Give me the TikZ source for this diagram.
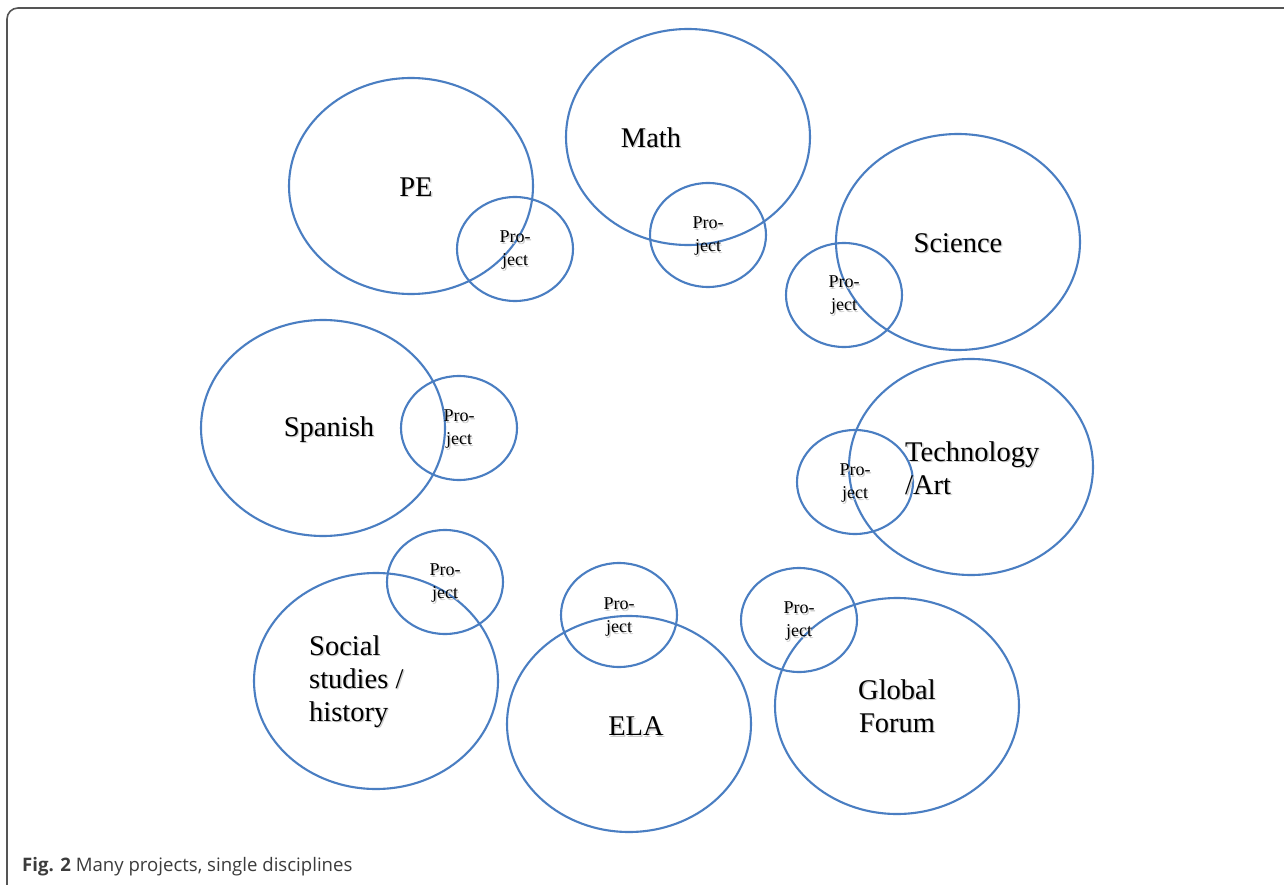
\documentclass[tikz,border=0pt]{standalone}
\usepackage{fontspec}
\setmainfont{Liberation Serif}
\newfontfamily\capfont{Open Sans}
\usetikzlibrary{shapes.geometric}
\definecolor{ellblue}{RGB}{74,126,194}
\definecolor{framegray}{RGB}{85,85,85}
\definecolor{capgray}{RGB}{60,60,60}
\newcommand\shd[1]{\makebox[0pt][l]{\kern1.3pt\raisebox{-1.3pt}{\textcolor{black!20}{#1}}}#1}
\tikzset{
  bigell/.style={ellipse, draw=ellblue, line width=2.1pt, minimum width=244pt, minimum height=216pt, inner sep=0pt, outer sep=0pt},
  projell/.style={ellipse, draw=ellblue, line width=2.1pt, minimum width=116pt, minimum height=104pt, inner sep=0pt, outer sep=0pt},
  biglabel/.style={inner sep=0pt, font=\fontsize{28.5}{33}\selectfont},
  projlabel/.style={inner sep=0pt, align=center, font=\fontsize{18}{23}\selectfont},
}
\begin{document}
\begin{tikzpicture}[x=1pt,y=-1pt]
\useasboundingbox (0,0) rectangle (1284,885);
\fill[white] (0,0) rectangle (1284,885);
% frame
\draw[framegray, line width=1.6pt, rounded corners=11pt] (7,890) -- (7,8) -- (1290,8);
% big ellipses
\node[bigell] (pe) at (411,186) {};
\node[bigell] (math) at (688,137) {};
\node[bigell] (sci) at (958,242) {};
\node[bigell] (spa) at (323,428) {};
\node[bigell] (tech) at (971,467) {};
\node[bigell] (soc) at (376,681) {};
\node[bigell] (ela) at (629,724) {};
\node[bigell] (glob) at (897,706) {};
% project ellipses
\node[projell] (pep) at (515,249) {};
\node[projell] (mathp) at (708,235) {};
\node[projell] (scip) at (844,295) {};
\node[projell] (spap) at (459,428) {};
\node[projell] (techp) at (855,482) {};
\node[projell] (socp) at (445,582) {};
\node[projell] (elap) at (619,615) {};
\node[projell] (globp) at (799,620) {};
% big labels
\node[biglabel] (pel) at (416,188) {\shd{PE}};
\node[biglabel] (mathl) at (651,138) {\shd{Math}};
\node[biglabel] (scil) at (958,244) {\shd{Science}};
\node[biglabel] (spal) at (329,430) {\shd{Spanish}};
\node[biglabel, align=left, anchor=west] (techl) at (905,469) {\shd{Technology}\\\shd{/Art}};
\node[biglabel, align=left, anchor=west] (socl) at (309,682) {\shd{Social}\\\shd{studies /}\\\shd{history}};
\node[biglabel] (elal) at (636,727) {\shd{ELA}};
\node[biglabel, align=center] (globl) at (897,707) {\shd{Global}\\\shd{Forum}};
% project labels
\node[projlabel] (pepl) at (515,251) {\shd{Pro-}\\\shd{ject}};
\node[projlabel] (mathpl) at (708,237) {\shd{Pro-}\\\shd{ject}};
\node[projlabel] (scipl) at (844,296) {\shd{Pro-}\\\shd{ject}};
\node[projlabel] (spapl) at (459,430) {\shd{Pro-}\\\shd{ject}};
\node[projlabel] (techpl) at (855,484) {\shd{Pro-}\\\shd{ject}};
\node[projlabel] (socpl) at (445,584) {\shd{Pro-}\\\shd{ject}};
\node[projlabel] (elapl) at (619,618) {\shd{Pro-}\\\shd{ject}};
\node[projlabel] (globpl) at (799,622) {\shd{Pro-}\\\shd{ject}};
% caption
\node[anchor=west, inner sep=0pt, text=capgray, font=\capfont\fontsize{18.6}{22}\selectfont] (cap) at (22,867) {\textbf{Fig. 2} Many projects, single disciplines};
\end{tikzpicture}
\end{document}
